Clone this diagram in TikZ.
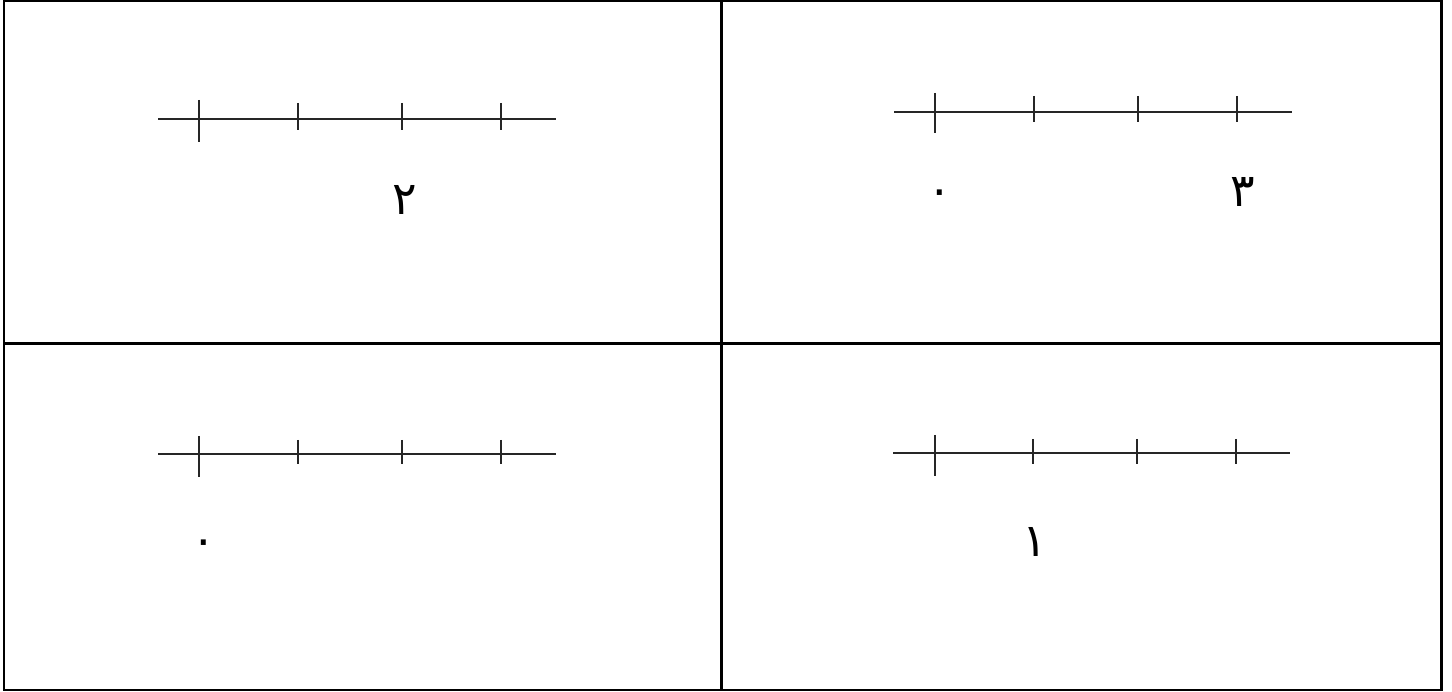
\documentclass[tikz,border=0pt]{standalone}
\usepackage{fontspec}
\newfontfamily\arabicfont[Script=Arabic]{DejaVu Sans}
\TeXXeTstate=1
\usetikzlibrary{positioning}

\begin{document}
\begin{tikzpicture}[x=0.01cm, y=-0.01cm,
        cell/.style={draw=black, line width=0.85pt},
        axis/.style={draw=black!85, line width=0.8pt},
        bigtick/.style={draw=black!85, line width=0.75pt},
        digit/.style={inner sep=0pt, font=\arabicfont\fontsize{13}{13}\selectfont}
    ]
        \useasboundingbox (0,0) rectangle (1452,692);

        % Tableau
        \draw[cell] (4,1) rectangle (1441,690);
        \draw[cell] (721,1) -- (721,690);
        \draw[cell] (4,344) -- (1441,344);

        % Haut gauche
        \draw[axis] (158,119) -- (556,119);
        \draw[bigtick] (199,100) -- (199,142);
        \foreach \x in {298,402,501} \draw[bigtick] (\x,103) -- (\x,130);
        \node[digit] (tlTwo) at (405,200) {\beginR ٢\endR};

        % Haut droite
        \draw[axis] (894,112) -- (1292,112);
        \draw[bigtick] (935,93) -- (935,133);
        \foreach \x in {1034,1138,1237} \draw[bigtick] (\x,96) -- (\x,122);
        \node[digit] (trZero) at (940,198) {\beginR ٠\endR};
        \node[digit] (trThree) at (1243,192) {\beginR ٣\endR};

        % Bas gauche
        \draw[axis] (158,454) -- (556,454);
        \draw[bigtick] (199,436) -- (199,477);
        \foreach \x in {298,402,501} \draw[bigtick] (\x,440) -- (\x,464);
        \node[digit] (blZero) at (204,548) {\beginR ٠\endR};

        % Bas droite
        \draw[axis] (893,453) -- (1290,453);
        \draw[bigtick] (935,435) -- (935,476);
        \foreach \x in {1033,1137,1236} \draw[bigtick] (\x,439) -- (\x,464);
        \node[digit] (brOne) at (1035,542) {\beginR ١\endR};
    \end{tikzpicture}
\end{document}
